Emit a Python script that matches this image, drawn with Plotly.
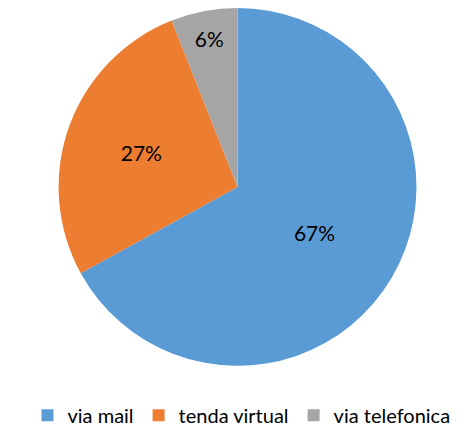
import plotly.graph_objects as go

labels = ["via mail", "tenda virtual", "via telefonica"]
values = [67, 27, 6]
colors = ["#5B9BD5", "#ED7D31", "#A5A5A5"]

fig = go.Figure([go.Pie(labels=labels, values=values, sort=False, direction="clockwise", rotation=0,
                        marker=dict(colors=colors, line=dict(width=0)),
                        textinfo="percent", textposition="inside", insidetextorientation="horizontal",
                        texttemplate="%{percent:.0%}",
                        textfont=dict(size=21, color="black"),
                        domain=dict(x=[0.100, 0.883], y=[0.152, 1.0]))])
fig.update_layout(width=467, height=427, margin=dict(l=0, r=0, t=0, b=0),
                  paper_bgcolor="white", font=dict(family="Lato, Carlito, sans-serif", size=20, color="black"),
                  legend=dict(orientation="h", x=0.5, xanchor="center", y=0.035, yanchor="middle",
                              font=dict(size=20), itemwidth=30, tracegroupgap=0))
fig.write_html("out.html")
